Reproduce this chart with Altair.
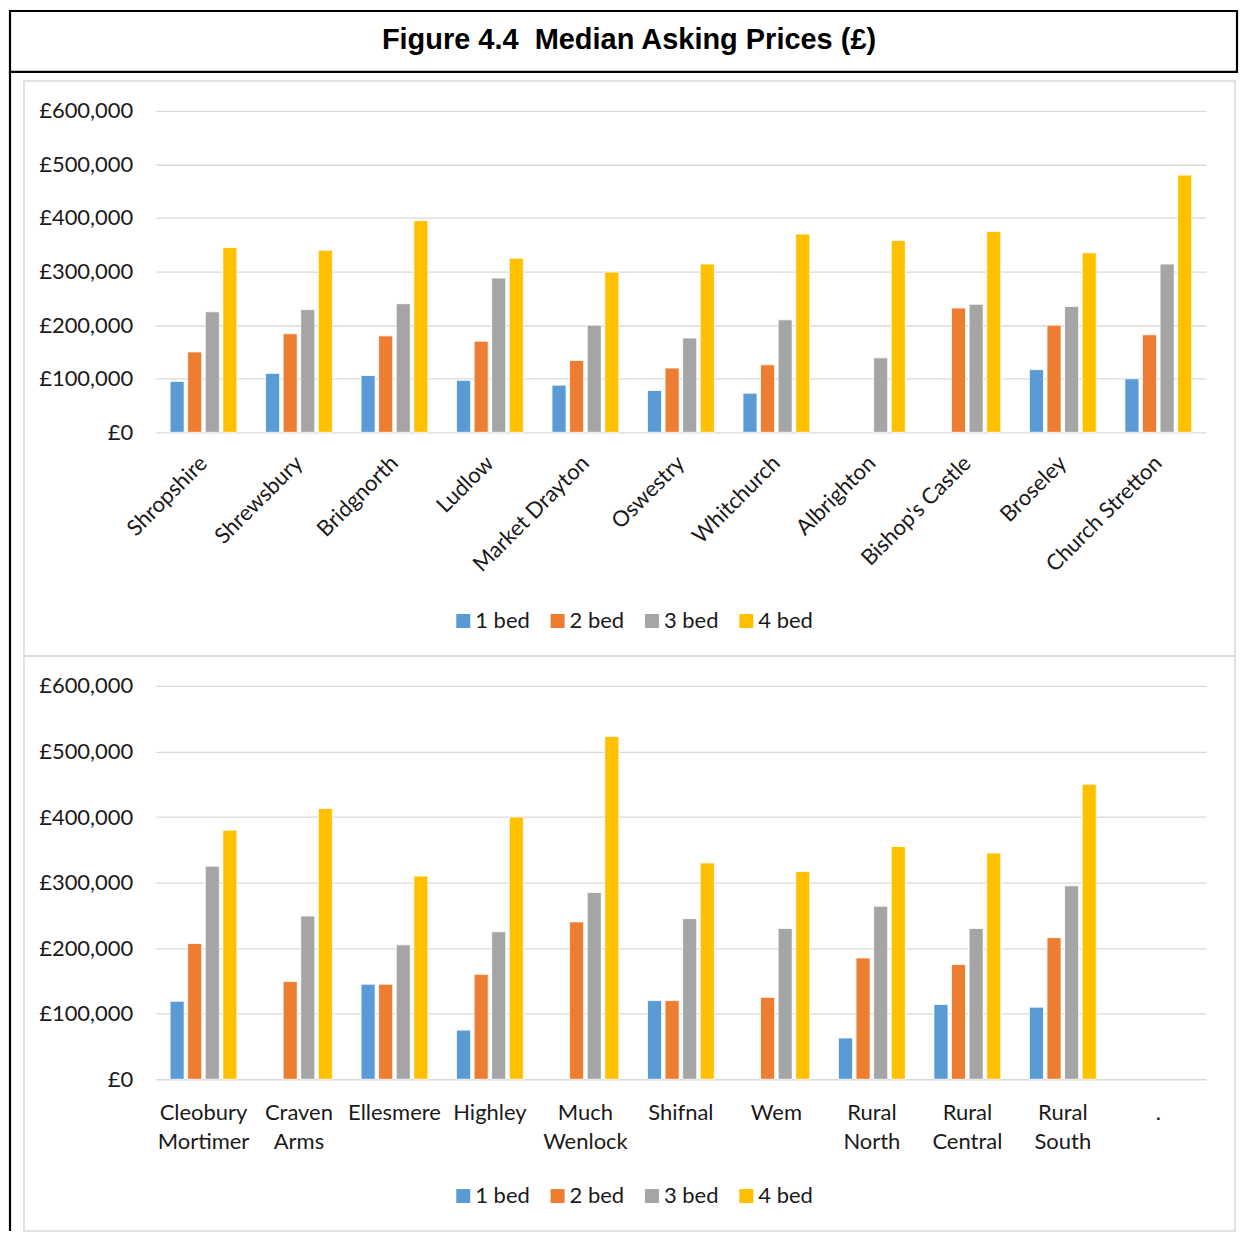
import altair as alt
import pandas as pd

series = ["1 bed", "2 bed", "3 bed", "4 bed"]
colors = ["#5B9BD5", "#ED7D31", "#A5A5A5", "#FFC000"]
y_ticks = [0, 100000, 200000, 300000, 400000, 500000, 600000]

top_places = ["Shropshire", "Shrewsbury", "Bridgnorth", "Ludlow", "Market Drayton",
              "Oswestry", "Whitchurch", "Albrighton", "Bishop's Castle", "Broseley",
              "Church Stretton"]
top_1bed = [95000, 110000, 106000, 97000, 88000, 78000, 73000, None, None, 117000, 100000]
top_2bed = [150000, 184000, 180000, 170000, 134000, 120000, 126000, None, 232000, 200000, 182000]
top_3bed = [225000, 229000, 240000, 288000, 200000, 176000, 210000, 139000, 239000, 235000, 314000]
top_4bed = [345000, 340000, 395000, 325000, 299000, 314000, 370000, 358000, 375000, 335000, 480000]

bot_places = ["Cleobury Mortimer", "Craven Arms", "Ellesmere", "Highley", "Much Wenlock",
              "Shifnal", "Wem", "Rural North", "Rural Central", "Rural South", "."]
bot_1bed = [119000, None, 145000, 75000, None, 120000, None, 63000, 114000, 110000, None]
bot_2bed = [207000, 149000, 145000, 160000, 240000, 120000, 125000, 185000, 175000, 216000, None]
bot_3bed = [325000, 249000, 205000, 225000, 285000, 245000, 230000, 264000, 230000, 295000, None]
bot_4bed = [380000, 413000, 310000, 400000, 523000, 330000, 317000, 355000, 345000, 450000, None]

title_text = "Figure 4.4\u00a0 Median Asking Prices (\u00a3)"

FONT = "Lato"
TXT = "#1a1a1a"
GRID = "#d9d9d9"
W = 1052
H_TOP = 322
H_BOT = 394
GAP = 576 - H_TOP


def to_long(places, cols):
    rows = []
    for i, p in enumerate(places):
        for s, vals in zip(series, cols):
            v = vals[i]
            if v is not None:
                rows.append({"place": p, "series": s, "price": v})
    return pd.DataFrame(rows)


one = alt.Data(values=[{"k": 1}])


def panel(df, places, h, xaxis, extra):
    legend = alt.Legend(orient="none", legendX=297, legendY=500, direction="horizontal",
                        title=None, symbolType="square", symbolSize=196, symbolStrokeWidth=0,
                        labelFontSize=22, labelFont=FONT, labelColor=TXT, labelOffset=1,
                        columnPadding=16.5, padding=0)
    bars = alt.Chart(df).mark_bar(stroke="white", strokeWidth=0.8).encode(
        x=alt.X("place:N", sort=places,
                scale=alt.Scale(domain=places, paddingInner=0.3, paddingOuter=0.15),
                axis=xaxis, title=None),
        xOffset=alt.XOffset("series:N", sort=series,
                            scale=alt.Scale(domain=series, paddingInner=0.2, paddingOuter=0)),
        y=alt.Y("price:Q", scale=alt.Scale(domain=[0, 600000], nice=False),
                axis=alt.Axis(values=y_ticks, labelExpr="'\u00a3' + format(datum.value, ',')",
                              grid=True, gridColor=GRID, gridWidth=1.3, ticks=False,
                              domain=False, labelPadding=23, labelFontSize=22, labelFont=FONT,
                              labelColor=TXT),
                title=None),
        color=alt.Color("series:N", sort=series,
                        scale=alt.Scale(domain=series, range=colors), legend=legend),
    )
    frame = alt.Chart(one).mark_rect(filled=False, stroke=GRID, strokeWidth=1.5).encode(
        x=alt.value(-132), x2=alt.value(1081), y=alt.value(-30), y2=alt.value(546))
    return alt.layer(frame, *extra, bars).properties(width=W, height=h)


# top panel decorations: title box and outer black line
title_box = alt.Chart(one).mark_rect(filled=False, stroke="black", strokeWidth=2.2).encode(
    x=alt.value(-146), x2=alt.value(1083), y=alt.value(-100), y2=alt.value(-39))
title_mark = alt.Chart(one).mark_text(font="Liberation Sans", fontWeight="bold", fontSize=29,
                                      align="center", baseline="alphabetic", color="black").encode(
    x=alt.value(474), y=alt.value(-62), text=alt.value(title_text))
left_line = alt.Chart(one).mark_rule(color="black", strokeWidth=2.2).encode(
    x=alt.value(-146), y=alt.value(-39), y2=alt.value(1122))

top_axis = alt.Axis(labelAngle=315, labelAlign="right", labelBaseline="middle", labelPadding=27,
                    ticks=False, domain=False, grid=False, labelFontSize=22, labelFont=FONT,
                    labelColor=TXT, labelOverlap=False, labelLimit=300)
bot_axis = alt.Axis(labelAngle=0, labelAlign="center", labelBaseline="top", labelPadding=23,
                    labelExpr="split(datum.label, ' ')", labelLineHeight=29,
                    ticks=False, domain=False, grid=False, labelFontSize=22, labelFont=FONT,
                    labelColor=TXT, labelOverlap=False, labelLimit=300)

top = panel(to_long(top_places, [top_1bed, top_2bed, top_3bed, top_4bed]), top_places, H_TOP,
            top_axis, [title_box, title_mark, left_line])
bottom = panel(to_long(bot_places, [bot_1bed, bot_2bed, bot_3bed, bot_4bed]), bot_places, H_BOT,
               bot_axis, [])

chart = alt.vconcat(top, bottom, spacing=GAP, bounds="flush").resolve_legend(
    color="independent").properties(
    padding={"left": 0, "top": 0, "right": 0, "bottom": 0}
).configure_view(stroke=None)

chart.save("out.html", embed_options={"renderer": "svg", "actions": False})
